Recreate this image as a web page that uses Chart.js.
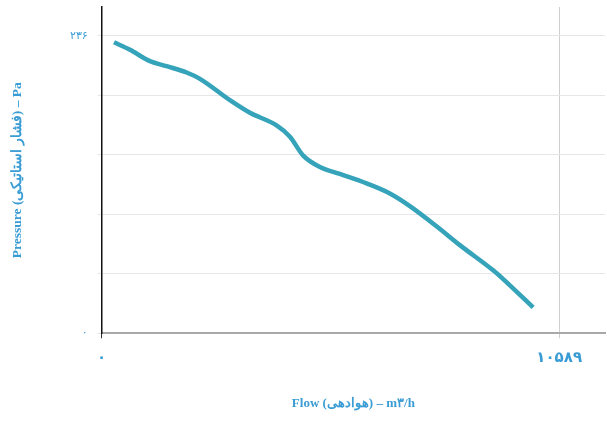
<!DOCTYPE html>
<html>
<head>
<meta charset="utf-8">
<script src="https://cdn.jsdelivr.net/npm/chart.js@4"></script>
<style>
  html, body { margin: 0; padding: 0; background: #fff; }
  #wrap { width: 607px; height: 433px; }
</style>
</head>
<body>
<div id="wrap"><canvas id="grafico"></canvas></div>
<script>
// Datos (caudal m3/h -> presión Pa)
const flow = [285, 655, 1117, 1503, 1966, 2274, 2968, 3431, 4048, 4357, 4665, 5051, 5514, 6131, 6670, 7133, 7750, 8290, 9061, 9293, 9987];
const pressure = [231, 225, 216, 212, 207, 202, 185, 175, 165, 156, 141, 132, 126.5, 119, 111, 101, 85, 70, 50, 43, 20.5];

const xTicks = [0, 10589];
const yTicks = [0, 47.2, 94.4, 141.6, 188.8, 236];
const yLabels = { 0: '۰', 236: '۲۳۶' };
const xLabels = { 0: '۰', 10589: '۱۰۵۸۹' };

const lineColor = '#35a3b9';
const textColor = '#3a9cd4';

// quitar el relleno automático que añade la escala (así el área queda donde queremos)
const sinRelleno = (s) => {
    s.paddingTop = 0; s.paddingBottom = 0;
    s.paddingLeft = 0; s.paddingRight = 0;
};

const ctx = document.getElementById('grafico').getContext('2d');
new Chart(ctx, {
    type: 'line',
    data: {
        datasets: [{
            data: flow.map((f, i) => ({ x: f, y: pressure[i] })),
            borderColor: lineColor,
            borderWidth: 4.5,
            pointRadius: 0,
            tension: 0.4,
            cubicInterpolationMode: 'monotone',
            fill: false
        }]
    },
    options: {
        responsive: true,
        maintainAspectRatio: false,
        animation: false,
        layout: { autoPadding: false, padding: { top: 7, right: 2, left: 0, bottom: 0 } },
        plugins: { legend: { display: false }, tooltip: { enabled: false } },
        scales: {
            x: {
                type: 'linear',
                min: 0,
                max: 11650,
                afterBuildTicks: (s) => { s.ticks = xTicks.map(v => ({ value: v })); },
                afterFit: (s) => { s.height = 99.7; sinRelleno(s); },
                ticks: {
                    autoSkip: false,
                    maxRotation: 0,
                    padding: 11,
                    color: textColor,
                    font: { family: 'DejaVu Sans', size: 15, weight: 'bold' },
                    callback: (v) => xLabels[v] ?? ''
                },
                grid: {
                    color: (c) => c.tick && c.tick.value === 0 ? '#333' : '#cfcfcf',
                    tickLength: 5
                },
                border: { color: '#a9a9a9', width: 2 },
                title: {
                    display: true,
                    text: 'Flow (هوادهی) – m۳/h',
                    color: textColor,
                    font: { family: 'Liberation Serif', size: 13, weight: 'bold' },
                    padding: { top: 0, bottom: 22 }
                }
            },
            y: {
                min: 0,
                max: 259,
                afterBuildTicks: (s) => { s.ticks = yTicks.map(v => ({ value: v })); },
                afterFit: (s) => { s.width = 101.7; sinRelleno(s); },
                ticks: {
                    autoSkip: false,
                    padding: 10,
                    color: textColor,
                    font: { family: 'DejaVu Sans', size: 11 },
                    callback: (v) => yLabels[v] ?? ''
                },
                grid: { color: '#e6e6e6', tickLength: 4 },
                border: { color: '#111', width: 1.5 },
                title: {
                    display: true,
                    text: 'Pressure (فشار استاتیکی) – Pa',
                    color: textColor,
                    font: { family: 'Liberation Serif', size: 13.5, weight: 'bold' },
                    padding: { top: 9, bottom: 0 }
                }
            }
        }
    }
});
</script>
</body>
</html>
